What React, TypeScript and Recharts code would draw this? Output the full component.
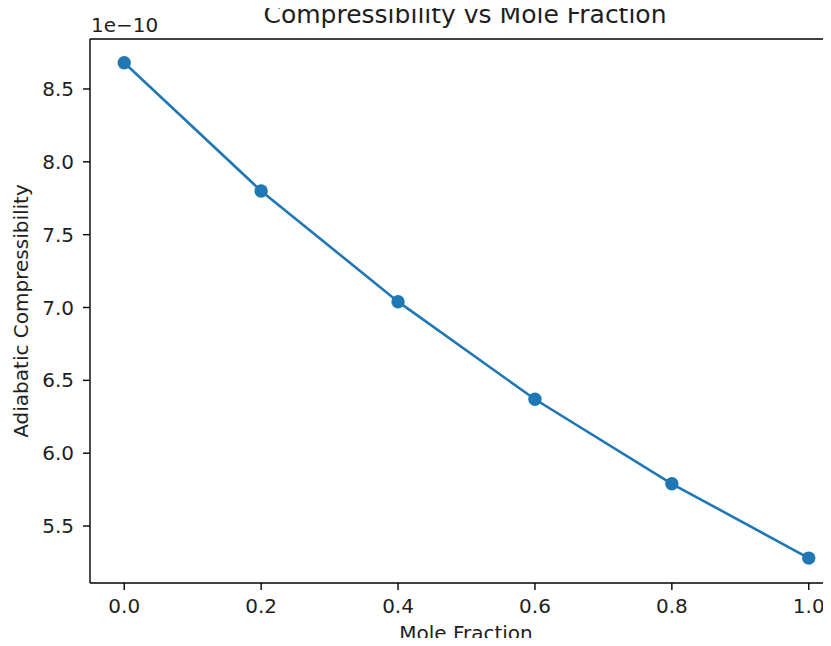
import { LineChart, Line, XAxis, YAxis } from 'recharts'

// mole fraction on x, compressibility (x 1e-10) on y
const moleFraction = [0.0, 0.2, 0.4, 0.6, 0.8, 1.0]
const compressibility = [8.68, 7.8, 7.04, 6.37, 5.79, 5.28]

const xTicks = [0.0, 0.2, 0.4, 0.6, 0.8, 1.0]
const yTicks = [5.5, 6.0, 6.5, 7.0, 7.5, 8.0, 8.5]

const BLUE = '#1f77b4'
const INK = '#1e1e1e'
const FONT = '"DejaVu Sans", sans-serif'

const data = moleFraction.map((x, i) => ({ x, y: compressibility[i] }))

export default function App() {
  return (
    <div
      style={{
        position: 'relative',
        width: 831,
        height: 646,
        margin: -8,
        overflow: 'hidden',
        background: 'white',
        fontFamily: FONT,
      }}
    >
      <LineChart
        width={860}
        height={646}
        data={data}
        margin={{ top: 39, right: 17, bottom: 0, left: 0 }}
      >
        <XAxis
          dataKey="x"
          type="number"
          domain={[-0.05, 1.05]}
          ticks={xTicks}
          tickFormatter={(v: number) => v.toFixed(1)}
          height={63}
          tickSize={7}
          tickMargin={9}
          stroke="#000"
          tick={{ fill: INK, fontSize: 20, fontFamily: FONT }}
          axisLine={{ stroke: '#000', strokeWidth: 1.4 }}
          tickLine={{ stroke: '#000', strokeWidth: 1.4 }}
        />
        <YAxis
          dataKey="y"
          type="number"
          domain={[5.109, 8.843]}
          ticks={yTicks}
          tickFormatter={(v: number) => v.toFixed(1)}
          width={90}
          tickSize={7}
          tickMargin={9}
          stroke="#000"
          tick={{ fill: INK, fontSize: 20, fontFamily: FONT }}
          axisLine={{ stroke: '#000', strokeWidth: 1.4 }}
          tickLine={{ stroke: '#000', strokeWidth: 1.4 }}
        />
        <Line
          dataKey="y"
          stroke={BLUE}
          strokeWidth={2.6}
          dot={{ r: 6.7, fill: BLUE, stroke: BLUE, strokeWidth: 0 }}
          isAnimationActive={false}
        />
      </LineChart>
      {/* titles and the top spine, drawn over the chart */}
      <svg
        width={831}
        height={646}
        style={{ position: 'absolute', left: 0, top: 0, pointerEvents: 'none' }}
      >
        <line x1={90} y1={39} x2={831} y2={39} stroke="#000" strokeWidth={1.4} />
        <text x={465} y={23} textAnchor="middle" fontSize={25} fill={INK} fontFamily={FONT}>
          Compressibility vs Mole Fraction
        </text>
        <text x={91} y={32} fontSize={20} fill={INK} fontFamily={FONT}>
          1e−10
        </text>
        <text x={466} y={640} textAnchor="middle" fontSize={20} fill={INK} fontFamily={FONT}>
          Mole Fraction
        </text>
        <text
          x={28}
          y={311}
          textAnchor="middle"
          fontSize={20}
          fill={INK}
          fontFamily={FONT}
          transform="rotate(-90 28 311)"
        >
          Adiabatic Compressibility
        </text>
      </svg>
    </div>
  )
}
